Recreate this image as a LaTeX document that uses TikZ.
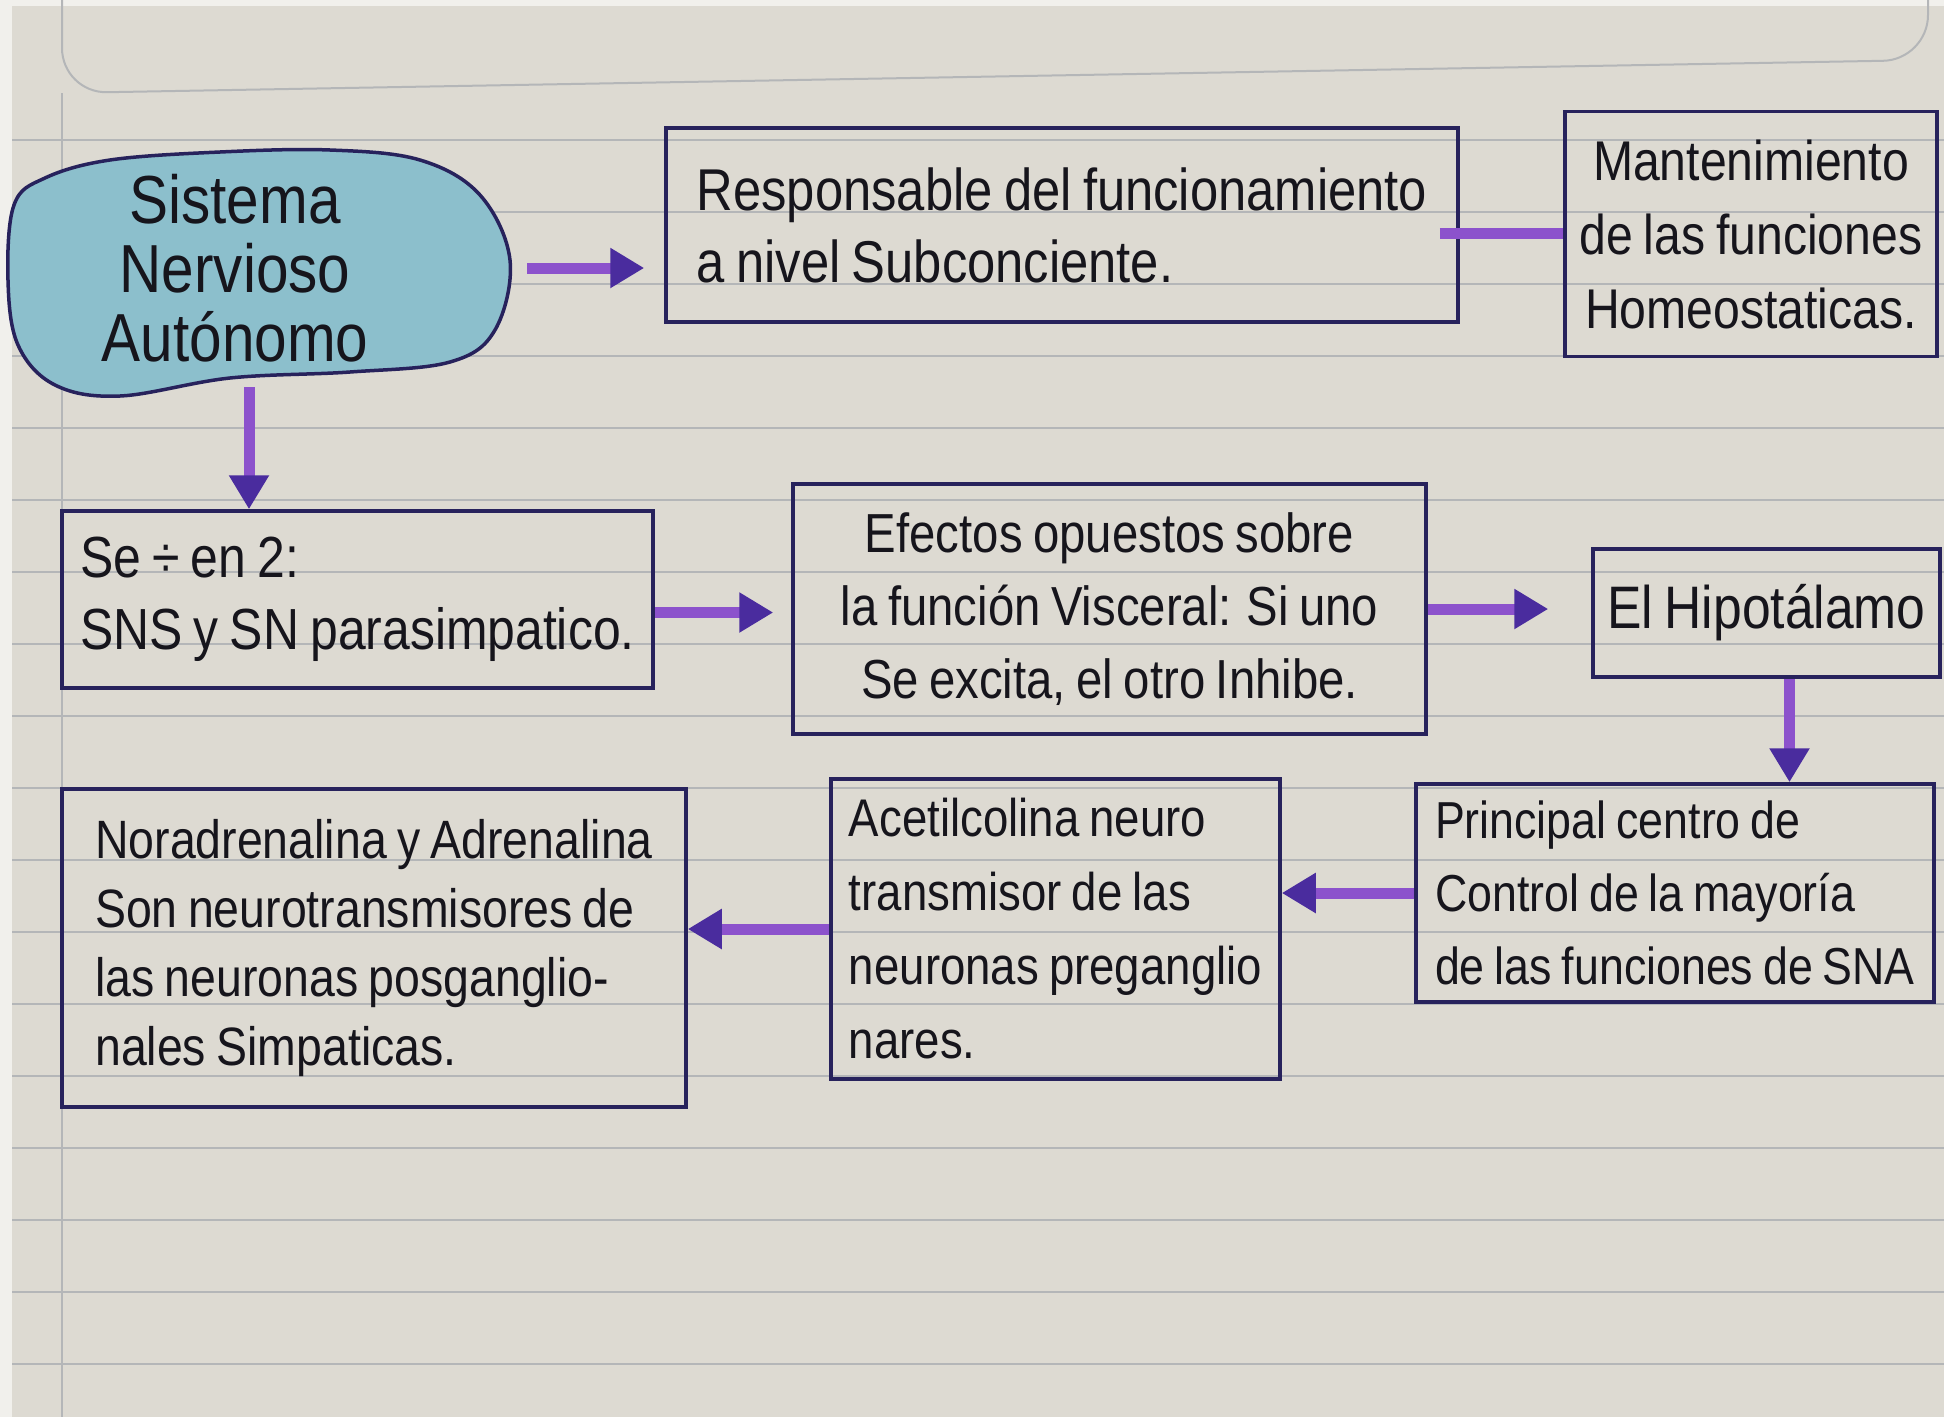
\documentclass[tikz,border=0pt]{standalone}
\usepackage{fontspec}
\setmainfont[FakeStretch=0.86,WordSpace=0.8]{Liberation Sans}
\usetikzlibrary{arrows.meta}
\definecolor{paper}{HTML}{DDDAD2}
\definecolor{pagemargin}{HTML}{F1F0EC}
\definecolor{rulecol}{HTML}{B4B6B8}
\definecolor{ink}{HTML}{27225C}
\definecolor{pen}{HTML}{16151C}
\definecolor{blobfill}{HTML}{8CBFCC}
\definecolor{shaft}{HTML}{8C52CC}
\definecolor{tiphd}{HTML}{4A2C9E}
\newcommand{\handfs}[2]{\fontsize{#1}{#2}\selectfont}
\begin{document}
\begin{tikzpicture}[x=1pt,y=-1pt,
  box/.style={draw=ink, line width=3.5pt, inner xsep=9pt, inner ysep=0pt, text=pen, align=left},
  arr/.style={draw=shaft, line width=11pt, -{Triangle[length=34pt,width=38pt,color=tiphd]}},
  link/.style={draw=shaft, line width=11pt},
  ruleline/.style={draw=rulecol, line width=2pt},
]
\fill[pagemargin] (0,0) rectangle (1944,1417);
\useasboundingbox (0,0) rectangle (1944,1417);
\fill[paper] (12,6) rectangle (1944,1417);
\foreach \k in {0,...,17} \draw[ruleline] (12,{140+72*\k}) -- (1944,{140+72*\k});
\draw[ruleline] (62,93) -- (62,1417);
\draw[ruleline, rounded corners=45pt] (62,-20) -- (62,93) -- (1928,60) -- (1928,-20);

% blob
\draw[draw=ink, line width=3.5pt, fill=blobfill] plot[smooth cycle, tension=0.6] coordinates {
  (14,205) (45,178) (110,160) (220,152) (330,150) (420,160) (480,195) (510,260)
  (495,330) (450,362) (350,372) (230,378) (120,396) (55,385) (18,345) (8,280)};
\node[text=pen, align=center, font=\handfs{68}{69}, minimum width=554pt, minimum height=238pt, inner sep=0pt] (sna) at (235,268) {Sistema\\Nervioso\\Autónomo};

% boxes
\node[box, minimum width=792pt, minimum height=194pt, font=\handfs{59}{72}] (resp) at (1062,225) {Responsable del funcionamiento\\a nivel Subconciente.};
\node[box, align=center, inner xsep=4pt, minimum width=372pt, minimum height=245pt, font=\handfs{56}{74}] (mant) at (1751,234) {Mantenimiento\\de las funciones\\Homeostaticas.};
\node[box, minimum width=591pt, minimum height=177pt, font=\handfs{58}{72}] (div) at (357.5,599.5) {Se ÷ en 2:\\SNS y SN parasimpatico.};
\node[box, align=center, minimum width=633pt, minimum height=250pt, font=\handfs{55}{73}] (efe) at (1109.5,609) {Efectos opuestos sobre\\la función Visceral: Si uno\\Se excita, el otro Inhibe.};
\node[box, align=center, minimum width=347pt, minimum height=128pt, font=\handfs{60}{72}] (hipo) at (1766.5,613) {El Hipotálamo};
\node[box, inner xsep=6pt, minimum width=518pt, minimum height=218pt, font=\handfs{52}{73}] (princ) at (1675,893) {Principal centro de\\Control de la mayoría\\de las funciones de SNA};
\node[box, minimum width=449pt, minimum height=300pt, font=\handfs{53}{74}] (acet) at (1055.5,929) {Acetilcolina neuro\\transmisor de las\\neuronas preganglio\\nares.};
\node[box, minimum width=624pt, minimum height=318pt, font=\handfs{54}{69}] (nora) at (374,948) {Noradrenalina y Adrenalina\\Son neurotransmisores de\\las neuronas posganglio-\\nales Simpaticas.};

% connectors
\draw[arr, shorten <=15pt, shorten >=20pt] (sna.east) -- (sna.east -| resp.west);
\draw[link, shorten <=-20pt] ([yshift=-8pt]resp.east) -- ([yshift=-8pt]resp.east -| mant.west);
\draw[arr] ([xshift=14pt]sna.south) -- ([xshift=14pt]sna.south |- div.north);
\draw[arr, shorten >=18pt] ([yshift=-13pt]div.east) -- ([yshift=-13pt]div.east -| efe.west);
\draw[arr, shorten >=43pt] (efe.east) -- (efe.east -| hipo.west);
\draw[arr] ([xshift=23pt]hipo.south) -- ([xshift=23pt]hipo.south |- princ.north);
\draw[arr] (princ.west) -- (princ.west -| acet.east);
\draw[arr] (acet.west) -- (acet.west -| nora.east);
\end{tikzpicture}
\end{document}
